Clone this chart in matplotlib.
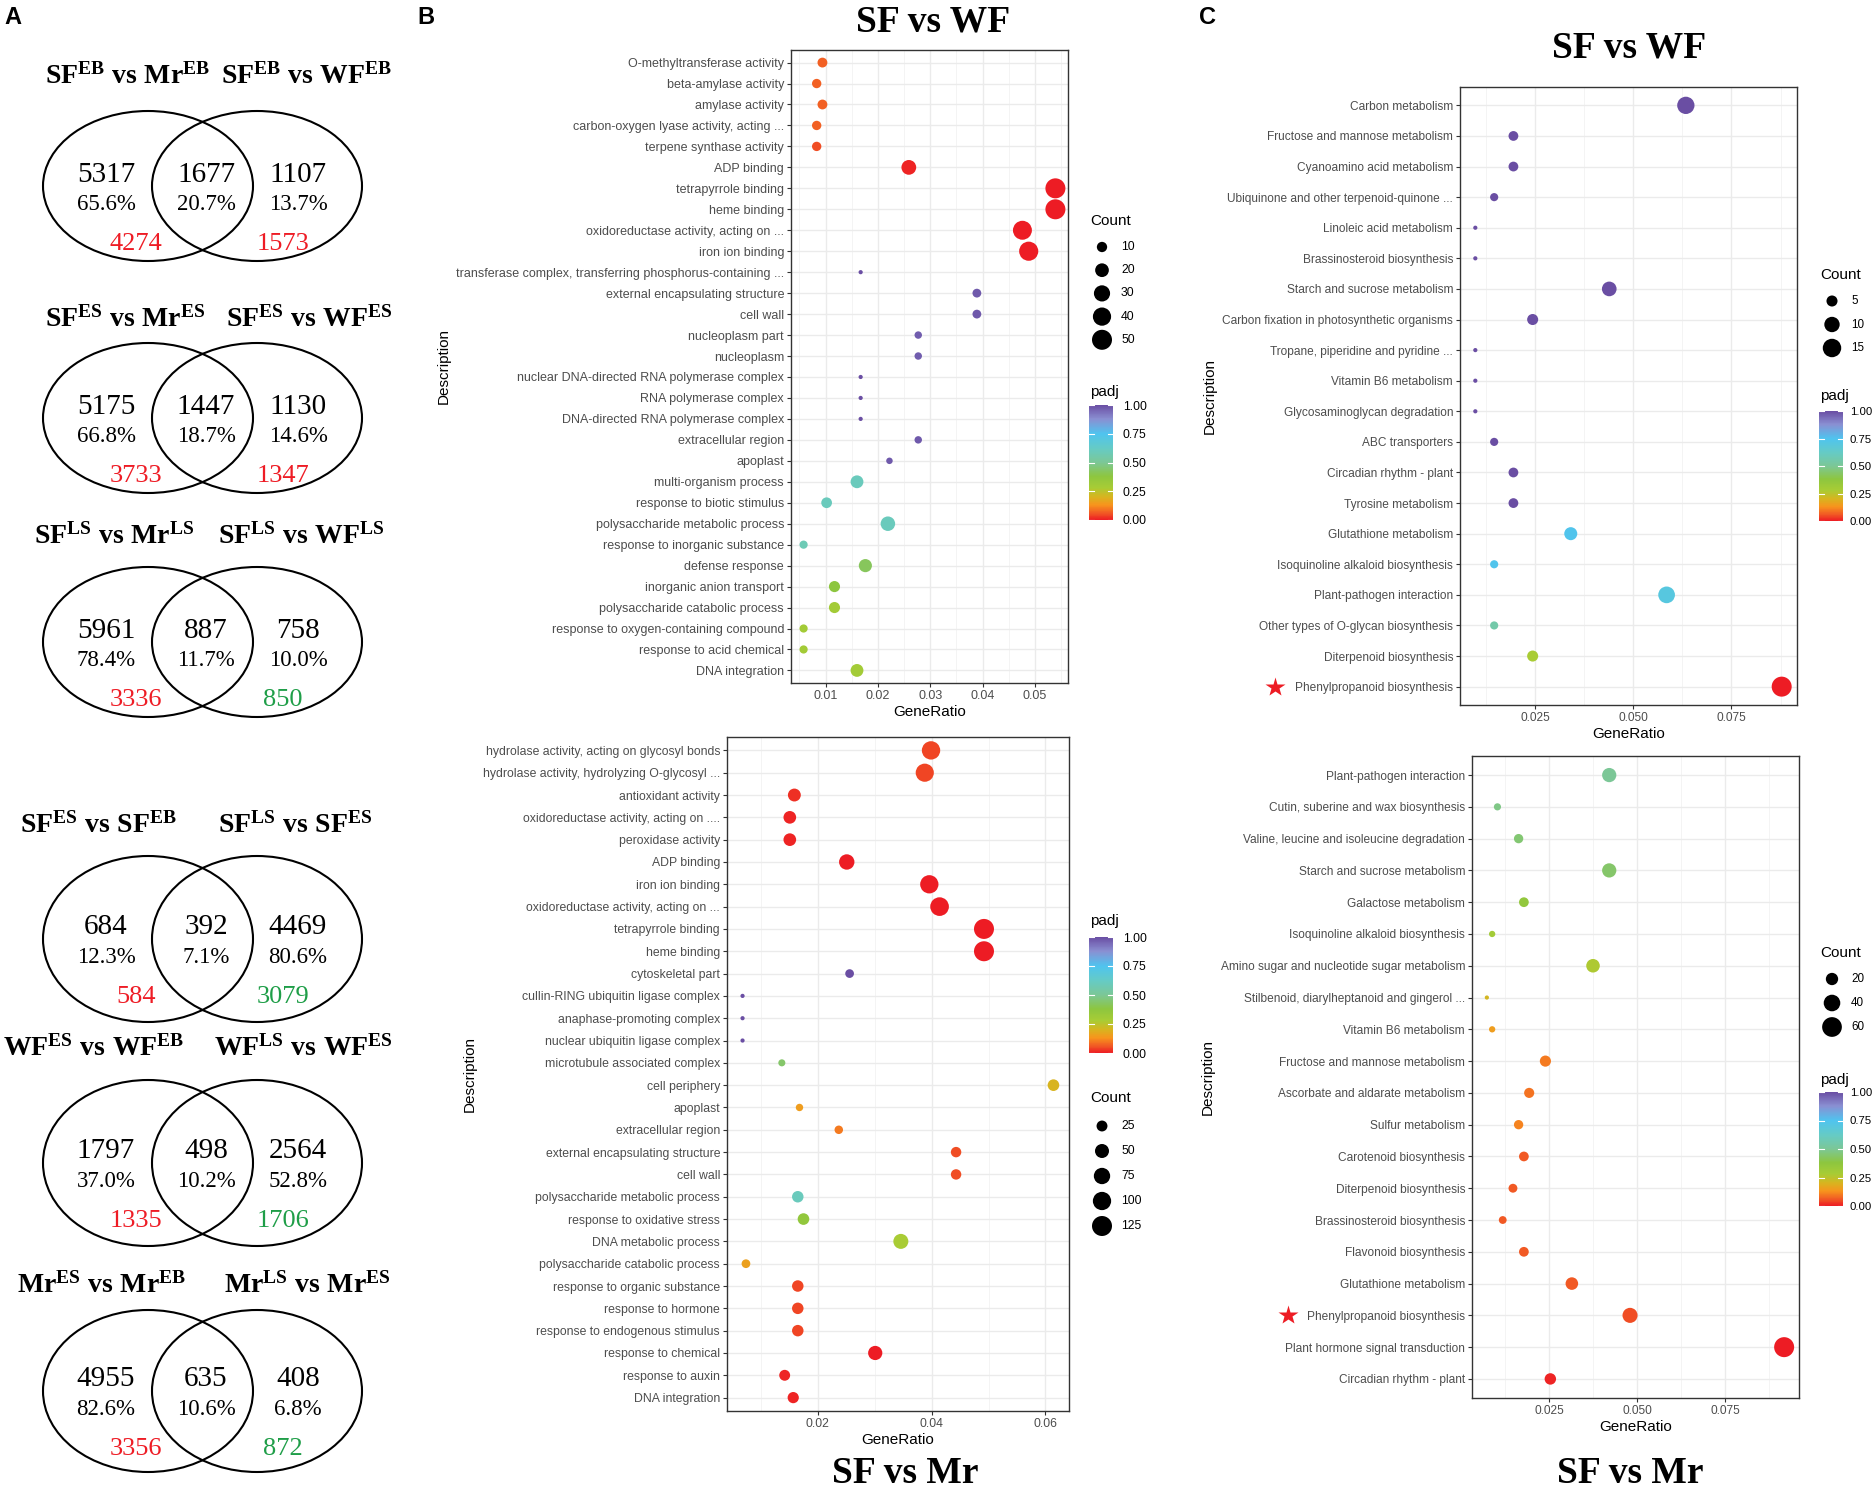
import numpy as np
import matplotlib
matplotlib.use("Agg")
import matplotlib.pyplot as plt
from matplotlib.patches import Ellipse
from matplotlib.colors import LinearSegmentedColormap, Normalize
from matplotlib.cm import ScalarMappable
from matplotlib.ticker import FormatStrFormatter
from matplotlib.transforms import blended_transform_factory

plt.rcParams['font.family'] = ['Liberation Sans', 'DejaVu Sans']
plt.rcParams['mathtext.fontset'] = 'custom'
plt.rcParams['mathtext.rm'] = 'Liberation Serif'
plt.rcParams['mathtext.bf'] = 'Liberation Serif:bold'

# ---------------- panel A: venn numbers ----------------
venn_left_titles = [r'$\mathbf{SF^{EB}\;vs\;Mr^{EB}}$', r'$\mathbf{SF^{ES}\;vs\;Mr^{ES}}$',
                    r'$\mathbf{SF^{LS}\;vs\;Mr^{LS}}$', r'$\mathbf{SF^{ES}\;vs\;SF^{EB}}$',
                    r'$\mathbf{WF^{ES}\;vs\;WF^{EB}}$', r'$\mathbf{Mr^{ES}\;vs\;Mr^{EB}}$']
venn_right_titles = [r'$\mathbf{SF^{EB}\;vs\;WF^{EB}}$', r'$\mathbf{SF^{ES}\;vs\;WF^{ES}}$',
                     r'$\mathbf{SF^{LS}\;vs\;WF^{LS}}$', r'$\mathbf{SF^{LS}\;vs\;SF^{ES}}$',
                     r'$\mathbf{WF^{LS}\;vs\;WF^{ES}}$', r'$\mathbf{Mr^{LS}\;vs\;Mr^{ES}}$']
venn_left = [5317, 5175, 5961, 684, 1797, 4955]
venn_mid = [1677, 1447, 887, 392, 498, 635]
venn_right = [1107, 1130, 758, 4469, 2564, 408]
pct_left = ['65.6%', '66.8%', '78.4%', '12.3%', '37.0%', '82.6%']
pct_mid = ['20.7%', '18.7%', '11.7%', '7.1%', '10.2%', '10.6%']
pct_right = ['13.7%', '14.6%', '10.0%', '80.6%', '52.8%', '6.8%']
extra_left = [4274, 3733, 3336, 584, 1335, 3356]
extra_right = [1573, 1347, 850, 3079, 1706, 872]
extra_right_up = [True, True, False, False, False, False]

# ---------------- panel B top: GO, SF vs WF ----------------
go_wf_terms = ["O-methyltransferase activity", "beta-amylase activity", "amylase activity",
               "carbon-oxygen lyase activity, acting ...", "terpene synthase activity",
               "ADP binding", "tetrapyrrole binding", "heme binding",
               "oxidoreductase activity, acting on ...", "iron ion binding",
               "transferase complex, transferring phosphorus-containing ...",
               "external encapsulating structure", "cell wall", "nucleoplasm part", "nucleoplasm",
               "nuclear DNA-directed RNA polymerase complex", "RNA polymerase complex",
               "DNA-directed RNA polymerase complex", "extracellular region", "apoplast",
               "multi-organism process", "response to biotic stimulus",
               "polysaccharide metabolic process", "response to inorganic substance",
               "defense response", "inorganic anion transport", "polysaccharide catabolic process",
               "response to oxygen-containing compound", "response to acid chemical", "DNA integration"]
go_wf_ratio = [0.0094, 0.0083, 0.0094, 0.0083, 0.0083, 0.0259, 0.0539, 0.0539, 0.0476, 0.0488,
               0.0167, 0.0389, 0.0389, 0.0277, 0.0277, 0.0167, 0.0167, 0.0167, 0.0277, 0.0222,
               0.0160, 0.0102, 0.0219, 0.0058, 0.0176, 0.0117, 0.0117, 0.0058, 0.0058, 0.0160]
go_wf_count = [9, 8, 9, 8, 8, 24, 50, 50, 44, 45,
               3, 7, 7, 5, 5, 3, 3, 3, 5, 4,
               17, 11, 23, 6, 18, 12, 12, 6, 6, 17]
go_wf_padj = [0.07, 0.07, 0.07, 0.07, 0.05, 0.01, 0.0, 0.0, 0.0, 0.0,
              1.0, 0.98, 0.98, 0.97, 0.97, 1.0, 1.0, 1.0, 0.98, 0.98,
              0.60, 0.60, 0.60, 0.58, 0.42, 0.38, 0.30, 0.30, 0.30, 0.30]

# ---------------- panel B bottom: GO, SF vs Mr ----------------
go_mr_terms = ["hydrolase activity, acting on glycosyl bonds",
               "hydrolase activity, hydrolyzing O-glycosyl ...", "antioxidant activity",
               "oxidoreductase activity, acting on ....", "peroxidase activity", "ADP binding",
               "iron ion binding", "oxidoreductase activity, acting on ...", "tetrapyrrole binding",
               "heme binding", "cytoskeletal part", "cullin-RING ubiquitin ligase complex",
               "anaphase-promoting complex", "nuclear ubiquitin ligase complex",
               "microtubule associated complex", "cell periphery", "apoplast", "extracellular region",
               "external encapsulating structure", "cell wall", "polysaccharide metabolic process",
               "response to oxidative stress", "DNA metabolic process",
               "polysaccharide catabolic process", "response to organic substance",
               "response to hormone", "response to endogenous stimulus", "response to chemical",
               "response to auxin", "DNA integration"]
go_mr_ratio = [0.0399, 0.0388, 0.0159, 0.0151, 0.0151, 0.0251, 0.0396, 0.0414, 0.0492, 0.0492,
               0.0256, 0.0068, 0.0068, 0.0068, 0.0137, 0.0614, 0.0168, 0.0237, 0.0443, 0.0443,
               0.0165, 0.0175, 0.0346, 0.0074, 0.0165, 0.0165, 0.0165, 0.0301, 0.0142, 0.0157]
go_mr_count = [101, 98, 40, 38, 38, 64, 100, 105, 125, 125,
               13, 3, 3, 3, 7, 30, 8, 12, 22, 22,
               29, 30, 60, 13, 29, 29, 29, 52, 25, 27]
go_mr_padj = [0.04, 0.04, 0.02, 0.01, 0.01, 0.0, 0.0, 0.0, 0.0, 0.0,
              1.0, 1.0, 1.0, 1.0, 0.44, 0.20, 0.15, 0.10, 0.05, 0.05,
              0.60, 0.36, 0.28, 0.16, 0.04, 0.04, 0.04, 0.0, 0.01, 0.01]

# ---------------- panel C top: KEGG, SF vs WF ----------------
kegg_wf_terms = ["Carbon metabolism", "Fructose and mannose metabolism", "Cyanoamino acid metabolism",
                 "Ubiquinone and other terpenoid-quinone ...", "Linoleic acid metabolism",
                 "Brassinosteroid biosynthesis", "Starch and sucrose metabolism",
                 "Carbon fixation in photosynthetic organisms", "Tropane, piperidine and pyridine ...",
                 "Vitamin B6 metabolism", "Glycosaminoglycan degradation", "ABC transporters",
                 "Circadian rhythm - plant", "Tyrosine metabolism", "Glutathione metabolism",
                 "Isoquinoline alkaloid biosynthesis", "Plant-pathogen interaction",
                 "Other types of O-glycan biosynthesis", "Diterpenoid biosynthesis",
                 "Phenylpropanoid biosynthesis"]
kegg_wf_ratio = [0.0634, 0.0195, 0.0195, 0.0146, 0.0098, 0.0098, 0.0439, 0.0244, 0.0098, 0.0098,
                 0.0098, 0.0146, 0.0195, 0.0195, 0.0341, 0.0146, 0.0585, 0.0146, 0.0244, 0.0878]
kegg_wf_count = [13, 4, 4, 3, 2, 2, 9, 5, 2, 2, 2, 3, 4, 4, 7, 3, 12, 3, 5, 18]
kegg_wf_padj = [1.0, 1.0, 1.0, 1.0, 1.0, 1.0, 1.0, 1.0, 1.0, 1.0,
                1.0, 1.0, 1.0, 1.0, 0.74, 0.74, 0.70, 0.55, 0.28, 0.0]

# ---------------- panel C bottom: KEGG, SF vs Mr ----------------
kegg_mr_terms = ["Plant-pathogen interaction", "Cutin, suberine and wax biosynthesis",
                 "Valine, leucine and isoleucine degradation", "Starch and sucrose metabolism",
                 "Galactose metabolism", "Isoquinoline alkaloid biosynthesis",
                 "Amino sugar and nucleotide sugar metabolism",
                 "Stilbenoid, diarylheptanoid and gingerol ...", "Vitamin B6 metabolism",
                 "Fructose and mannose metabolism", "Ascorbate and aldarate metabolism",
                 "Sulfur metabolism", "Carotenoid biosynthesis", "Diterpenoid biosynthesis",
                 "Brassinosteroid biosynthesis", "Flavonoid biosynthesis", "Glutathione metabolism",
                 "Phenylpropanoid biosynthesis", "Plant hormone signal transduction",
                 "Circadian rhythm - plant"]
kegg_mr_ratio = [0.0421, 0.0104, 0.0164, 0.0421, 0.0179, 0.0089, 0.0375, 0.0074, 0.0089, 0.0240,
                 0.0194, 0.0164, 0.0179, 0.0148, 0.0119, 0.0179, 0.0315, 0.0480, 0.0917, 0.0254]
kegg_mr_count = [28, 7, 11, 28, 12, 6, 25, 5, 6, 16, 13, 11, 12, 10, 8, 12, 21, 32, 62, 17]
kegg_mr_padj = [0.50, 0.48, 0.45, 0.44, 0.36, 0.30, 0.27, 0.21, 0.15, 0.10,
                0.09, 0.11, 0.06, 0.06, 0.06, 0.06, 0.06, 0.05, 0.0, 0.01]

padj_ticks = [0.0, 0.25, 0.5, 0.75, 1.0]
padj_labels = ['0.00', '0.25', '0.50', '0.75', '1.00']

# ------------------------------------------------------------
W, H = 1875, 1492
fig = plt.figure(figsize=(W / 100, H / 100), dpi=100)

cmap = LinearSegmentedColormap.from_list('padj', [
    (0.00, '#ed1c24'), (0.06, '#f15a24'), (0.13, '#f7941d'), (0.20, '#d8b41f'),
    (0.28, '#a8cc35'), (0.38, '#8dc63f'), (0.50, '#7cc796'), (0.62, '#66cbc4'),
    (0.75, '#4fc4ef'), (0.88, '#8a8fd2'), (1.00, '#6a4ea3')])
norm = Normalize(0, 1)


def frac(l, t, r, b):
    return [l / W, 1 - b / H, (r - l) / W, (b - t) / H]


def dot_px(c, cmin, cmax):
    t = (np.asarray(c, dtype=float) - cmin) / (cmax - cmin)
    return 3.16 * (1.33 + 5 * np.sqrt(t))


ov = fig.add_axes([0, 0, 1, 1])
ov.set_xlim(0, W)
ov.set_ylim(H, 0)
ov.axis('off')

# panel letters
for lab, x in [('A', 13), ('B', 426), ('C', 1208)]:
    ov.text(x, 24, lab, fontsize=17, fontweight='bold', ha='center', va='baseline')

# ---- venn diagrams ----
venn_cy = [186, 418, 642, 939, 1163, 1391]
venn_h = [150, 150, 150, 166, 166, 162]
title_y = [75, 318, 535, 824, 1047, 1284]
tl_x = [128, 125, 114, 98, 94, 102]
tr_x = [307, 309, 301, 295, 303, 307]
red, green = '#ee1c25', '#1f9e48'
for i, cy in enumerate(venn_cy):
    for cx in (148, 257):
        ov.add_patch(Ellipse((cx, cy), 210, venn_h[i], fill=False, ec='black', lw=1.5))
    ov.text(tl_x[i], title_y[i] + 9, venn_left_titles[i], fontsize=20, ha='center', va='baseline')
    ov.text(tr_x[i], title_y[i] + 9, venn_right_titles[i], fontsize=20, ha='center', va='baseline')
    for x, n, p in [(106, venn_left[i], pct_left[i]), (206, venn_mid[i], pct_mid[i]),
                    (298, venn_right[i], pct_right[i])]:
        ov.text(x, cy - 15 + 10.5, str(n), fontsize=21, family='Liberation Serif',
                ha='center', va='baseline')
        ov.text(x, cy + 16 + 7.8, p, fontsize=16.5, family='Liberation Serif',
                ha='center', va='baseline')
    ov.text(136, cy + 55 + 8.8, str(extra_left[i]), fontsize=19, family='Liberation Serif',
            color=red, ha='center', va='baseline')
    ov.text(283, cy + 55 + 8.8, str(extra_right[i]), fontsize=19, family='Liberation Serif',
            color=red if extra_right_up[i] else green, ha='center', va='baseline')


# ---- dot plots ----
def dotplot(box, terms, ratio, count, padj, major, minor, fmt, fs):
    ax = fig.add_axes(frac(*box))
    n = len(terms)
    y = np.arange(n)
    cmin, cmax = min(count), max(count)
    s = (dot_px(count, cmin, cmax) * 0.72) ** 2
    ax.scatter(ratio, y, s=s, c=padj, cmap=cmap, norm=norm, edgecolors='none', zorder=3)
    lo, hi = min(ratio), max(ratio)
    pad = (hi - lo) * 0.05
    ax.set_xlim(lo - pad, hi + pad)
    ax.set_ylim(n - 0.4, -0.6)
    ax.set_yticks(y)
    ax.set_yticklabels(terms, fontsize=fs, color='#4d4d4d')
    ax.set_xticks(major)
    ax.set_xticks(minor, minor=True)
    ax.xaxis.set_major_formatter(FormatStrFormatter(fmt))
    ax.tick_params(axis='x', labelsize=fs, labelcolor='#4d4d4d')
    ax.tick_params(which='major', length=3, width=0.8, color='#333333', pad=2)
    ax.tick_params(which='minor', length=0)
    ax.grid(which='major', color='#ebebeb', lw=1.0)
    ax.grid(which='minor', axis='x', color='#f2f2f2', lw=0.6)
    ax.set_axisbelow(True)
    for sp in ax.spines.values():
        sp.set_color('#333333')
        sp.set_linewidth(1.0)
    ax.set_xlabel('GeneRatio', fontsize=11, labelpad=2)
    ax.set_ylabel('Description', fontsize=11, labelpad=4)
    return ax, cmin, cmax


def count_legend(y_title, values, y_first, step, x0, cmin, cmax, fs):
    ov.text(x0, y_title, 'Count', fontsize=11, ha='left', va='center')
    for i, v in enumerate(values):
        yy = y_first + i * step
        ov.scatter([x0 + 12], [yy], s=(dot_px(v, cmin, cmax) * 0.72) ** 2, color='black',
                   edgecolors='none')
        ov.text(x0 + 31, yy, str(v), fontsize=fs, ha='left', va='center')


def padj_bar(y_title, y0, y1, x0, fs, pad):
    ov.text(x0, y_title, 'padj', fontsize=11, ha='left', va='center')
    cax = fig.add_axes(frac(x0 - 1, y0, x0 + 23, y1))
    cb = fig.colorbar(ScalarMappable(norm=norm, cmap=cmap), cax=cax)
    cb.outline.set_visible(False)
    cb.set_ticks(padj_ticks)
    cb.set_ticklabels(padj_labels)
    cax.tick_params(length=0, labelsize=fs, pad=pad)
    for v in padj_ticks:
        cax.axhline(v, 0, 0.2, color='white', lw=0.8)
        cax.axhline(v, 0.8, 1, color='white', lw=0.8)


ax1, c1lo, c1hi = dotplot((791, 50, 1068, 683), go_wf_terms, go_wf_ratio, go_wf_count, go_wf_padj,
                          [0.01, 0.02, 0.03, 0.04, 0.05], [0.005, 0.015, 0.025, 0.035, 0.045, 0.055],
                          '%.2f', 9.0)
count_legend(221, [10, 20, 30, 40, 50], 247, 23.2, 1090, c1lo, c1hi, 8.8)
padj_bar(392, 405, 520, 1090, 8.8, 7)

ax2, c2lo, c2hi = dotplot((727, 737, 1069, 1411), go_mr_terms, go_mr_ratio, go_mr_count, go_mr_padj,
                          [0.02, 0.04, 0.06], [0.01, 0.03, 0.05], '%.2f', 8.8)
padj_bar(921, 937, 1053, 1090, 8.8, 7)
count_legend(1098, [25, 50, 75, 100, 125], 1126, 25, 1090, c2lo, c2hi, 8.8)

ax3, c3lo, c3hi = dotplot((1460, 87, 1797, 705), kegg_wf_terms, kegg_wf_ratio, kegg_wf_count,
                          kegg_wf_padj, [0.025, 0.05, 0.075], [0.0125, 0.0375, 0.0625, 0.0875],
                          '%.3f', 8.6)
count_legend(275, [5, 10, 15], 301, 23.5, 1820, c3lo, c3hi, 8.4)
padj_bar(396, 411, 521, 1820, 8.2, 5)

ax4, c4lo, c4hi = dotplot((1472, 756, 1799, 1398), kegg_mr_terms, kegg_mr_ratio, kegg_mr_count,
                          kegg_mr_padj, [0.025, 0.05, 0.075], [0.0125, 0.0375, 0.0625, 0.0875],
                          '%.3f', 8.6)
count_legend(953, [20, 40, 60], 979, 24, 1820, c4lo, c4hi, 8.4)
padj_bar(1080, 1092, 1206, 1820, 8.2, 5)

# stars marking phenylpropanoid biosynthesis
for ax, terms, xs in [(ax3, kegg_wf_terms, 1275), (ax4, kegg_mr_terms, 1288)]:
    tr = blended_transform_factory(fig.transFigure, ax.transData)
    ax.plot([xs / W], [terms.index("Phenylpropanoid biosynthesis")], marker='*', ms=15,
            color='#ed1c24', mec='none', transform=tr, clip_on=False)

# panel titles
for x, y, t in [(933, 31, 'SF vs WF'), (905, 1483, 'SF vs Mr'),
                (1629, 57, 'SF vs WF'), (1630, 1483, 'SF vs Mr')]:
    ov.text(x, y, t, fontsize=27, fontweight='bold', family='Liberation Serif',
            ha='center', va='baseline')

fig.savefig('out.png', dpi=100)
